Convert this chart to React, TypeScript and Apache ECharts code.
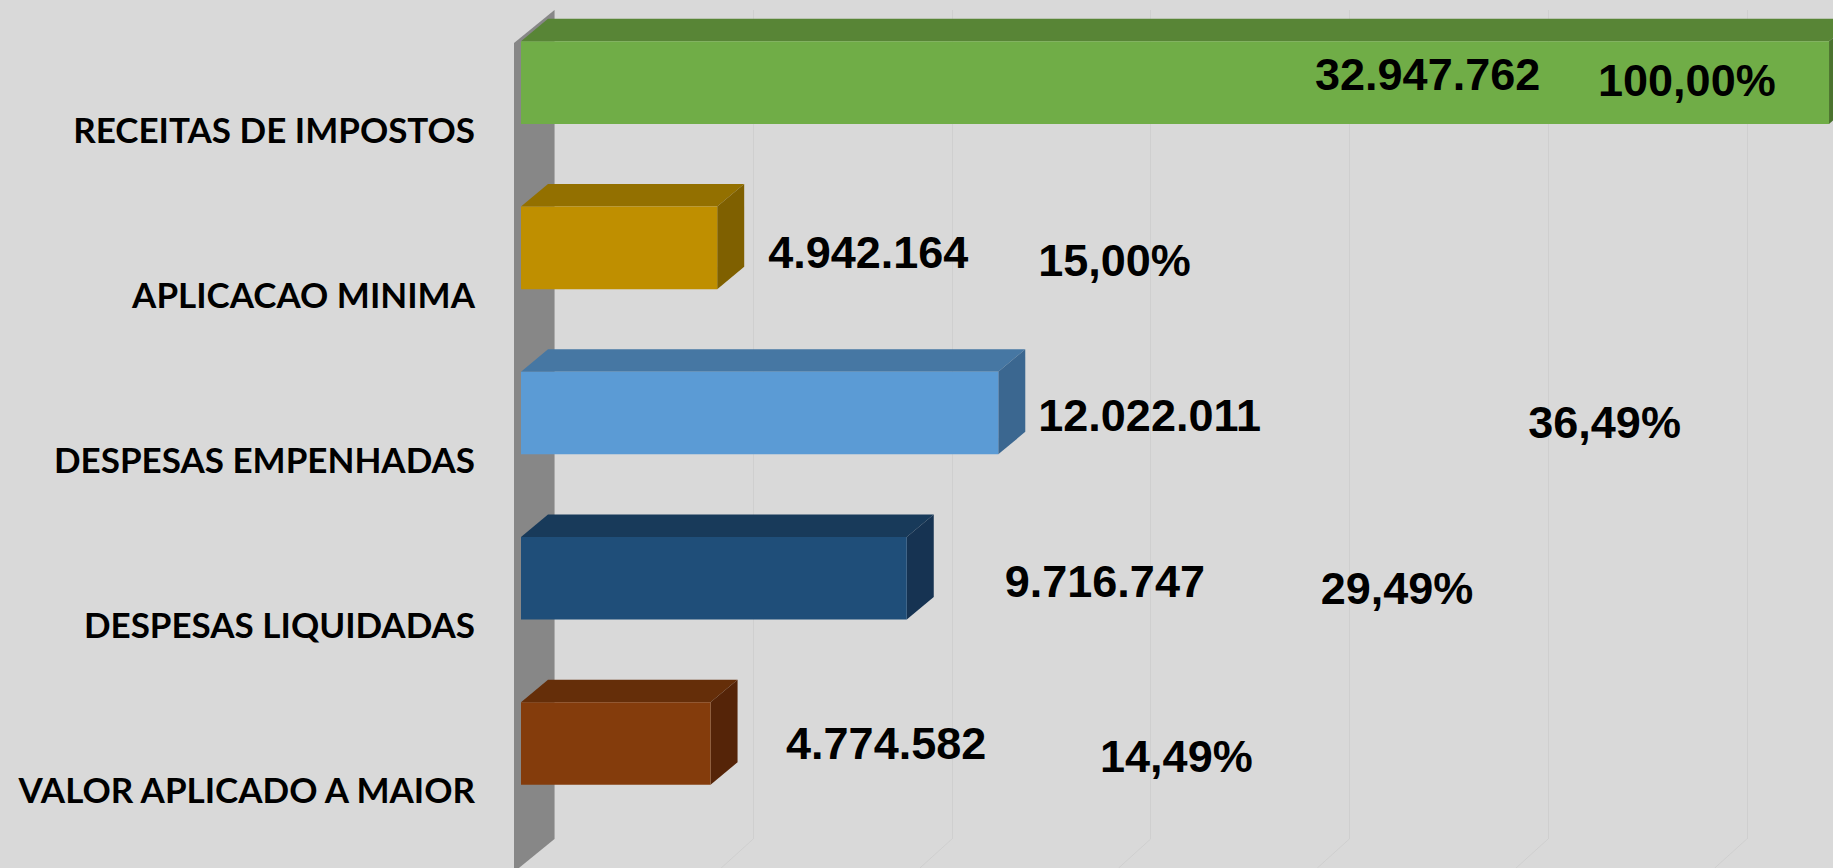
import React, { useEffect, useRef } from 'react';
import * as echarts from 'echarts';

// ---- data ----
const categories = [
  'RECEITAS DE IMPOSTOS',
  'APLICACAO MINIMA',
  'DESPESAS EMPENHADAS',
  'DESPESAS LIQUIDADAS',
  'VALOR APLICADO A MAIOR',
];
const values = [32947762, 4942164, 12022011, 9716747, 4774582];
const percents = [100.0, 15.0, 36.49, 29.49, 14.49];
const axisMin = 0;
const axisMax = 35000000;
const axisInterval = 5000000;

// ---- styles / layout ----
const W = 1833;
const H = 868;
const CANVAS_W = 2050;
const BG = '#d9d9d9';
const GRID_COLOR = '#cfcfcf';
const WALL_COLOR = '#878787';
const frontColors = ['#70ad47', '#bf8f00', '#5b9bd5', '#1f4e79', '#843c0c'];
const topColors = ['#588536', '#937000', '#4677a3', '#183a5a', '#652e09'];
const sideColors = ['#4b732f', '#7f6000', '#3b6790', '#163352', '#552408'];
const FRONT = { left: 521, top: -2.4, width: 1389.5, height: 828.5 };
const BACK = { left: 554.5, top: 10, width: 1391, height: 829 };
const BAR_DEPTH = [27, -22.5];
const WALL_FRONT_X = 514;
const WALL_DEPTH = [40.5, -33];
const VALUE_FONT = 'bold 45px "Liberation Sans", Arial, sans-serif';
// label offsets relative to bar front end (x) and bar centre (y)
const valueLabelOffsets = [[-514, -8.5], [51, 4.5], [40, 2], [98, 3], [75.5, 0]];
const percentLabelOffsets = [[-231, -2.5], [321, 12.5], [530, 9], [414, 10], [389.5, 12.6]];
const CAT_LABEL_SHIFT = 46;

const fmtValue = (v: number) => String(v).replace(/\B(?=(\d{3})+(?!\d))/g, '.');
const fmtPct = (p: number) => p.toFixed(2).replace('.', ',') + '%';

export default function App() {
  const ref = useRef<HTMLDivElement>(null);
  useEffect(() => {
    const chart = echarts.init(ref.current!, null, { renderer: 'svg' });
    const option: any = {
      animation: false,
      backgroundColor: BG,
      grid: [
        { left: BACK.left, top: BACK.top, width: BACK.width, height: BACK.height },
        { left: FRONT.left, top: FRONT.top, width: FRONT.width, height: FRONT.height },
      ],
      xAxis: [
        {
          type: 'value', gridIndex: 0, min: axisMin, max: axisMax, interval: axisInterval,
          axisLine: { show: false }, axisTick: { show: false }, axisLabel: { show: false },
          splitLine: { show: true, lineStyle: { color: GRID_COLOR, width: 1 } },
        },
        {
          type: 'value', gridIndex: 1, min: axisMin, max: axisMax, interval: axisInterval,
          axisLine: { show: false }, axisTick: { show: false }, axisLabel: { show: false },
          splitLine: { show: false },
        },
      ],
      yAxis: [
        { type: 'category', gridIndex: 0, data: categories, inverse: true, show: false },
        {
          type: 'category', gridIndex: 1, data: categories, inverse: true,
          axisLine: { show: false }, axisTick: { show: false }, splitLine: { show: false },
          axisLabel: {
            color: '#000', fontFamily: 'Lato', fontWeight: 'bold', fontSize: 35,
            margin: 46, align: 'right', verticalAlign: 'top', lineHeight: CAT_LABEL_SHIFT * 2,
          },
        },
      ],
      series: [
        {
          type: 'custom',
          xAxisIndex: 1,
          yAxisIndex: 1,
          z: 2,
          encode: { x: 0, y: 1 },
          data: values.map((v, i) => [v, i]),
          renderItem: (params: any, api: any) => {
            const i = params.dataIndex;
            const val = api.value(0);
            const idx = api.value(1);
            const p0 = api.coord([axisMin, idx]);
            const p1 = api.coord([val, idx]);
            const h = api.size([0, 1])[1] * 0.5;
            const x0 = p0[0];
            const x1 = p1[0];
            const yt = p1[1] - h / 2;
            const yb = p1[1] + h / 2;
            const [dx, dy] = BAR_DEPTH;
            const vo = valueLabelOffsets[i];
            const po = percentLabelOffsets[i];
            return {
              type: 'group',
              children: [
                {
                  type: 'polygon',
                  shape: { points: [[x0, yt], [x1, yt], [x1 + dx, yt + dy], [x0 + dx, yt + dy]] },
                  style: { fill: topColors[i] },
                },
                {
                  type: 'polygon',
                  shape: { points: [[x1, yt], [x1 + dx, yt + dy], [x1 + dx, yb + dy], [x1, yb]] },
                  style: { fill: sideColors[i] },
                },
                {
                  type: 'rect',
                  shape: { x: x0, y: yt, width: x1 - x0, height: h },
                  style: { fill: frontColors[i] },
                },
                {
                  type: 'text',
                  z2: 10,
                  style: {
                    text: fmtValue(values[i]), x: x1 + vo[0], y: p1[1] + vo[1],
                    fill: '#000', font: VALUE_FONT,
                    textAlign: 'left', textVerticalAlign: 'middle', align: 'left', verticalAlign: 'middle',
                  },
                },
                {
                  type: 'text',
                  z2: 10,
                  style: {
                    text: fmtPct(percents[i]), x: x1 + po[0], y: p1[1] + po[1],
                    fill: '#000', font: VALUE_FONT,
                    textAlign: 'left', textVerticalAlign: 'middle', align: 'left', verticalAlign: 'middle',
                  },
                },
              ],
            };
          },
        },
      ],
    };
    chart.setOption(option);

    const floorY = BACK.top + BACK.height;
    const ticks: number[] = [];
    for (let v = axisMin; v <= axisMax; v += axisInterval) ticks.push(v);
    const k = (H - floorY) / -WALL_DEPTH[1];
    const floorLines = ticks.slice(1).map((v) => {
      const x = chart.convertToPixel({ xAxisIndex: 0 }, v) as number;
      return {
        type: 'line', z: 0,
        shape: { x1: x, y1: floorY, x2: x - WALL_DEPTH[0] * k * 0.9, y2: H },
        style: { stroke: GRID_COLOR, lineWidth: 1 },
      };
    });
    const wallBack = BACK.left;
    const wall = {
      type: 'polygon', z: 1,
      shape: {
        points: [
          [WALL_FRONT_X, BACK.top - WALL_DEPTH[1]],
          [wallBack, BACK.top],
          [wallBack, floorY],
          [WALL_FRONT_X, floorY - WALL_DEPTH[1]],
        ],
      },
      style: { fill: WALL_COLOR },
    };
    chart.setOption({ graphic: [...floorLines, wall] });
    return () => chart.dispose();
  }, []);
  return (
    <div style={{ position: 'fixed', left: 0, top: 0, width: W, height: H, overflow: 'hidden', background: BG }}>
      <div ref={ref} style={{ width: CANVAS_W, height: H }} />
    </div>
  );
}
